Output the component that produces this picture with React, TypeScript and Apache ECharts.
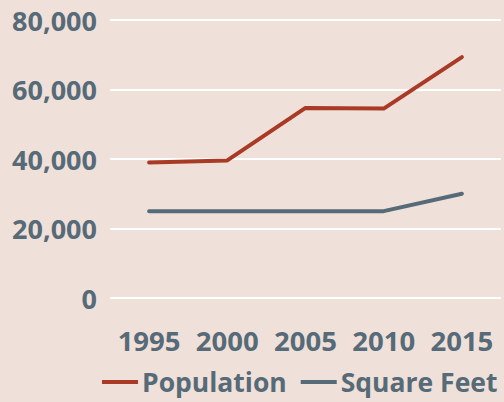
import React, { useEffect, useRef } from "react";
import * as echarts from "echarts";

const years = ["1995", "2000", "2005", "2010", "2015"];
const population = [39000, 39600, 54700, 54500, 69300];
const squareFeet = [25000, 25000, 25000, 25000, 30000];
const seriesNames = ["Population", "Square Feet"];

const TEXT = "#566a78";
const FONT = "'Open Sans', sans-serif";

export default function App() {
  const ref = useRef<HTMLDivElement>(null);
  useEffect(() => {
    if (!ref.current) return;
    const chart = echarts.init(ref.current, null, { renderer: "svg" });
    chart.setOption({
      animation: false,
      backgroundColor: "#efe1d9",
      grid: { left: 110, right: 3, top: 20, bottom: 104, containLabel: false },
      legend: {
        left: 102,
        top: 367,
        width: 402,
        padding: 0,
        icon: "rect",
        itemWidth: 36,
        itemHeight: 4,
        itemGap: 14,
        data: seriesNames,
        textStyle: { color: TEXT, fontFamily: FONT, fontWeight: "bold", fontSize: 26.5, lineHeight: 30, padding: [0, 0, 0, -1] },
      },
      xAxis: {
        type: "category",
        data: years,
        boundaryGap: true,
        axisLine: { show: false },
        axisTick: { show: false },
        axisLabel: {
          interval: 0,
          hideOverlap: false,
          color: TEXT,
          fontFamily: FONT,
          fontWeight: "bold",
          fontSize: 27.5,
          margin: 28,
        },
      },
      yAxis: {
        type: "value",
        min: 0,
        max: 80000,
        interval: 20000,
        axisLine: { show: false },
        axisTick: { show: false },
        splitLine: { lineStyle: { color: "#ffffff", width: 2 } },
        axisLabel: {
          color: TEXT,
          fontFamily: FONT,
          fontWeight: "bold",
          fontSize: 27,
          margin: 13,
          formatter: (v: number) => v.toLocaleString("en-US"),
        },
      },
      series: [
        {
          name: seriesNames[0],
          type: "line",
          data: population,
          symbol: "none",
          lineStyle: { color: "#a93a26", width: 4, cap: "round", join: "round" },
          itemStyle: { color: "#a93a26" },
        },
        {
          name: seriesNames[1],
          type: "line",
          data: squareFeet,
          symbol: "none",
          lineStyle: { color: "#566a78", width: 4, cap: "round", join: "round" },
          itemStyle: { color: "#566a78" },
        },
      ],
    });
    return () => chart.dispose();
  }, []);
  return <div ref={ref} style={{ width: 504, height: 402, position: "fixed", left: 0, top: 0 }} />;
}
